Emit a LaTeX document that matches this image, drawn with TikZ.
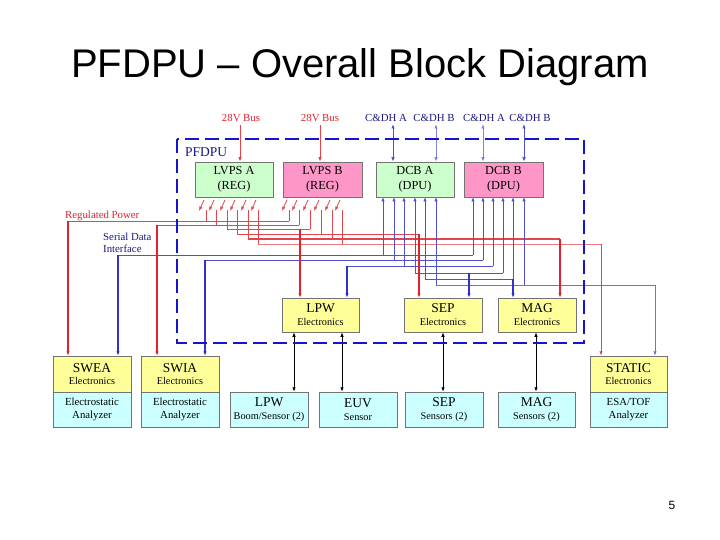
\documentclass[tikz,border=0pt]{standalone}
\usepackage{fontspec}
\setmainfont{Liberation Serif}
\newfontfamily\arialfont{Liberation Sans}
\usetikzlibrary{arrows.meta}
\definecolor{boxgreen}{RGB}{204,255,204}
\definecolor{boxpink}{RGB}{255,150,200}
\definecolor{boxyellow}{RGB}{255,255,153}
\definecolor{boxcyan}{RGB}{204,255,255}
\definecolor{pwrred}{RGB}{225,35,45}
\definecolor{datablue}{RGB}{50,50,200}
\definecolor{dashblue}{RGB}{20,20,210}
\definecolor{navytext}{RGB}{25,25,130}
\newcommand\boxttl[1]{{\fontsize{13.5}{14}\selectfont #1}}
\newcommand\boxsub[1]{{\fontsize{10.3}{11}\selectfont #1}}
\begin{document}
\begin{tikzpicture}[x=1pt,y=-1pt,
  >={Latex[length=4.5pt,width=3.5pt]},
  boxbase/.style={draw=black!55, line width=0.5pt, inner sep=0pt, align=center, minimum height=35pt, minimum width=78pt},
  topbox/.style={boxbase, font=\fontsize{12.3}{15}\selectfont},
  ybox/.style={boxbase, fill=boxyellow, font=\fontsize{10}{13}\selectfont},
  cbox/.style={boxbase, fill=boxcyan, font=\fontsize{10.8}{13}\selectfont},
  lbl/.style={inner sep=0pt, font=\fontsize{10.8}{12.5}\selectfont},
  pwrthin/.style={draw=pwrred!85, line width=0.8pt},
  pwrdrop/.style={draw=pwrred, line width=1.4pt},
  datathin/.style={draw=datablue!85, line width=0.85pt},
  datadrop/.style={draw=datablue, line width=1.3pt},
  sigline/.style={draw=black, line width=0.9pt, <->},
]
\useasboundingbox (0,0) rectangle (720,540);

% title and page number
\node[font=\arialfont\fontsize{40}{44}\selectfont, anchor=base, inner sep=0pt] (title) at (360,78) {PFDPU – Overall Block Diagram};
\node[font=\arialfont\fontsize{12}{14}\selectfont, anchor=base, inner sep=0pt] (pagenum) at (672,509) {5};

% ---------- regulated power (red) ----------
\foreach \x/\y in {206/221,216/225,227/229,237/234,248/239,258/244,289/221,299/225,310/229,321/234,332/239,342/244}{
  \draw[pwrthin,->] (\x-2,200) -- (\x-7,211);
  \draw[pwrthin] (\x,210) -- (\x,\y);
}
\coordinate (rSWEA) at (68,221);
\coordinate (rSWIA) at (157,225);
\coordinate (rLPW) at (300,229);
\coordinate (rSEP) at (419,234);
\coordinate (rMAG) at (560,239);
\coordinate (rSTATIC) at (601,244);
\draw[pwrthin] (rSWEA) -- (289,221);
\draw[pwrthin] (rSWIA) -- (299,225);
\draw[pwrthin] (227,229) -- (310,229);
\draw[pwrthin] (237,234) -- (rSEP);
\draw[pwrthin, line width=1.1pt] (248,239) -- (rMAG);
\draw[pwrthin, draw=pwrred!60] (258,244) -- (rSTATIC);

% ---------- serial data (blue) ----------
\foreach \x/\y in {383/255,394/260,404/266,415/273,425/279,436/285,473/255,483/260,493/266,503/273,513/279,524/285}{
  \draw[datathin,->] (\x,\y) -- (\x,197);
}
\coordinate (bSWEA) at (118,255);
\coordinate (bSWIA) at (205,260);
\coordinate (bLPW) at (347,266);
\coordinate (bSEP) at (469,273);
\coordinate (bMAG) at (513,279);
\coordinate (bSTATIC) at (655,285);
\draw[datathin] (bSWEA) -- (473,255);
\draw[datathin] (bSWIA) -- (483,260);
\draw[datathin] (bLPW) -- (493,266);
\draw[datathin] (415,273) -- (503,273);
\draw[datathin] (425,279) -- (bMAG);
\draw[datathin, draw=datablue!70] (436,285) -- (bSTATIC);

% ---------- boxes ----------
\node[topbox, fill=boxgreen] (lvpsA) at (234,179.5) {LVPS A\\(REG)};
\node[topbox, fill=boxpink, minimum width=79pt] (lvpsB) at (322.5,179.5) {LVPS B\\(REG)};
\node[topbox, fill=boxgreen] (dcbA) at (415,179.5) {DCB A\\(DPU)};
\node[topbox, fill=boxpink, minimum width=79pt] (dcbB) at (503.5,179.5) {DCB B\\(DPU)};

\node[ybox, minimum height=34pt, minimum width=77pt] (lpwE) at (320.5,315) {\boxttl{LPW}\\\boxsub{Electronics}};
\node[ybox, minimum height=34pt] (sepE) at (443,315) {\boxttl{SEP}\\\boxsub{Electronics}};
\node[ybox, minimum height=34pt] (magE) at (537,315) {\boxttl{MAG}\\\boxsub{Electronics}};

\node[ybox, minimum height=36pt, font=\fontsize{10}{12}\selectfont] (sweaE) at (92,374) {\boxttl{SWEA}\\\boxsub{Electronics}};
\node[cbox] (sweaA) at (92,409.5) {Electrostatic\\Analyzer};
\node[ybox, minimum height=36pt, font=\fontsize{10}{12}\selectfont] (swiaE) at (180,374) {\boxttl{SWIA}\\\boxsub{Electronics}};
\node[cbox] (swiaA) at (180,409.5) {Electrostatic\\Analyzer};
\node[cbox] (lpwS) at (269,409.5) {\boxttl{LPW}\\\boxsub{Boom/Sensor (2)}};
\node[cbox] (euv) at (358,409.5) {\boxttl{EUV}\\\boxsub{Sensor}};
\node[cbox] (sepS) at (444,409.5) {\boxttl{SEP}\\\boxsub{Sensors (2)}};
\node[cbox, minimum width=77pt] (magS) at (536.5,409.5) {\boxttl{MAG}\\\boxsub{Sensors (2)}};
\node[ybox, minimum height=36pt, minimum width=77pt, font=\fontsize{10}{12}\selectfont] (staticE) at (628.5,374) {\boxttl{STATIC}\\\boxsub{Electronics}};
\node[cbox, minimum width=77pt] (staticA) at (628.5,409.5) {ESA/TOF\\Analyzer};

% ---------- drops into loads ----------
\draw[pwrdrop,->] (rSWEA) -- (rSWEA |- sweaE.north);
\draw[pwrdrop,->] (rSWIA) -- (rSWIA |- swiaE.north);
\draw[pwrdrop,->] (rLPW) -- (rLPW |- lpwE.north);
\draw[pwrdrop,->] (rSEP) -- (rSEP |- sepE.north);
\draw[pwrdrop,->] (rMAG) -- (rMAG |- magE.north);
\draw[pwrthin,->] (rSTATIC) -- (rSTATIC |- staticE.north);

\draw[datadrop,->] (bSWEA) -- (bSWEA |- sweaE.north);
\draw[datadrop,->] (bSWIA) -- (bSWIA |- swiaE.north);
\draw[datadrop,->] (bLPW) -- (bLPW |- lpwE.north);
\draw[datadrop,->] (bSEP) -- (bSEP |- sepE.north);
\draw[datadrop,->] (bMAG) -- (bMAG |- magE.north);
\draw[datathin, draw=datablue!70, ->] (bSTATIC) -- (bSTATIC |- staticE.north);

% ---------- sensor links ----------
\coordinate (k1) at (294,0);
\coordinate (k2) at (342,0);
\coordinate (k3) at (443,0);
\coordinate (k4) at (536,0);
\draw[sigline] (k1 |- lpwE.south) -- (k1 |- lpwS.north);
\draw[sigline] (k2 |- lpwE.south) -- (k2 |- euv.north);
\draw[sigline] (k3 |- sepE.south) -- (k3 |- sepS.north);
\draw[sigline] (k4 |- magE.south) -- (k4 |- magS.north);

% ---------- external inputs ----------
\node[lbl, text=pwrred] (bus1) at (241,118) {28V Bus};
\node[lbl, text=pwrred] (bus2) at (320,118) {28V Bus};
\node[lbl, text=navytext] (cdh1) at (386,118) {C\&DH A};
\node[lbl, text=navytext] (cdh2) at (434,118) {C\&DH B};
\node[lbl, text=navytext] (cdh3) at (484,118) {C\&DH A};
\node[lbl, text=navytext] (cdh4) at (530,118) {C\&DH B};
\coordinate (p1) at (240,125);
\coordinate (p2) at (320,125);
\draw[pwrthin, line width=0.9pt, ->] (p1) -- (p1 |- lvpsA.north);
\draw[pwrthin, line width=0.9pt, ->] (p2) -- (p2 |- lvpsB.north);
\coordinate (c1) at (393,124);
\coordinate (c2) at (436,124);
\coordinate (c3) at (483,124);
\coordinate (c4) at (524,124);
\draw[datathin, line width=1pt, <->] (c1) -- (c1 |- dcbA.north);
\draw[datathin, draw=datablue!60, <->] (c2) -- (c2 |- dcbA.north);
\draw[datathin, draw=datablue!60, <->] (c3) -- (c3 |- dcbB.north);
\draw[datathin, line width=1pt, <->] (c4) -- (c4 |- dcbB.north);

% ---------- labels ----------
\node[lbl, text=pwrred, anchor=west] (regpow) at (65,216) {Regulated Power};
\node[lbl, text=navytext, anchor=west, align=left] (sdi) at (103,243) {Serial Data\\Interface};

% ---------- PFDPU boundary ----------
\draw[draw=dashblue, line width=2pt, dash pattern=on 14pt off 6pt] (177,139) rectangle (584,343);
\node[anchor=west, inner sep=0pt, text=navytext, font=\fontsize{13.5}{15}\selectfont] (pfdpu) at (185,152) {PFDPU};
\end{tikzpicture}
\end{document}
